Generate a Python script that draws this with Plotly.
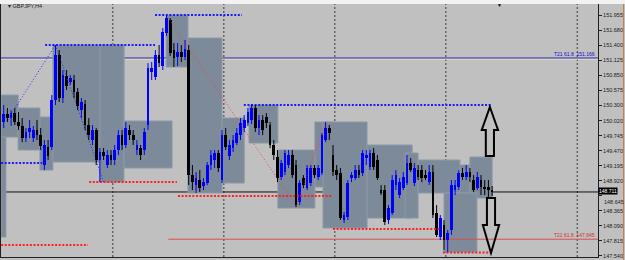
import plotly.graph_objects as go

# ---------------- data ----------------
candle_idx = list(range(133))
opens = [149.993,150.140,150.066,150.158,149.993,149.920,149.700,149.810,149.700,149.847,
         149.755,149.205,149.535,149.535,150.397,151.222,150.433,150.837,150.726,150.763,
         150.543,150.213,150.324,149.938,149.663,149.847,149.297,149.443,149.205,149.388,
         149.297,149.480,149.755,149.572,149.847,149.755,149.480,149.516,149.480,149.938,
         150.910,150.819,151.222,151.020,151.625,151.863,151.313,151.185,151.276,151.185,
         151.313,149.021,148.838,148.930,148.820,148.875,149.205,149.297,149.425,148.930,
         149.755,149.370,149.516,149.608,149.755,149.883,149.975,150.030,150.250,149.883,
         150.030,150.085,149.938,149.572,149.352,148.985,149.076,149.205,149.388,149.205,
         148.526,148.966,148.783,148.875,149.150,148.985,149.058,149.663,149.883,149.388,
         149.113,149.058,148.197,148.252,148.966,148.966,149.113,149.058,149.333,149.169,
         149.425,149.297,148.747,148.747,148.197,148.325,148.838,148.655,148.783,148.875,
         149.242,148.875,149.113,149.113,149.021,148.893,149.076,148.325,147.885,148.105,
         147.830,148.013,148.747,148.802,149.058,148.985,149.076,148.930,148.783,148.930,
         148.802,148.802,148.747]
highs = [150.305,150.250,150.213,150.250,150.176,150.066,149.883,150.030,149.920,150.030,
         149.883,149.663,149.663,150.488,151.405,151.313,150.947,150.947,150.855,150.855,
         150.616,150.433,150.397,150.066,149.938,149.883,149.516,149.516,149.480,149.480,
         149.572,149.847,149.847,149.993,149.938,149.847,149.663,149.572,149.883,151.075,
         151.093,151.313,151.405,151.716,151.955,151.900,151.442,151.442,151.405,151.497,
         151.405,149.205,149.076,149.113,148.966,149.260,149.480,149.480,149.480,149.847,
         149.883,149.663,149.755,149.883,150.066,150.121,150.250,150.324,150.305,150.121,
         150.121,150.158,149.993,149.663,149.480,149.297,149.480,149.480,149.480,149.297,
         148.930,149.021,149.205,149.205,149.205,149.205,149.792,149.993,149.938,149.572,
         149.205,149.150,148.343,148.930,149.076,149.205,149.205,149.480,149.480,149.480,
         149.516,149.388,148.838,148.838,148.471,149.021,149.113,148.966,149.076,149.388,
         149.333,149.242,149.205,149.205,149.113,149.205,149.205,148.471,148.288,148.197,
         148.013,148.930,148.930,149.113,149.150,149.205,149.150,149.021,149.076,149.021,
         148.930,148.930,148.820]
lows = [149.883,149.993,149.920,149.938,149.847,149.626,149.626,149.700,149.626,149.663,
        149.480,149.113,149.297,149.480,150.305,150.360,150.342,150.580,150.672,150.433,
        150.213,150.066,149.847,149.663,149.572,149.205,148.893,149.297,149.150,149.205,
        149.205,149.388,149.480,149.516,149.663,149.572,149.388,149.297,149.388,149.847,
        150.763,150.763,151.002,150.947,151.570,151.203,151.002,151.020,151.093,151.130,
        148.838,148.747,148.692,148.710,148.747,148.838,149.113,149.150,149.076,148.875,
        149.480,149.297,149.443,149.572,149.663,149.810,149.920,149.957,149.810,149.755,
        149.755,149.883,149.516,149.297,148.893,148.930,149.021,149.150,148.966,148.435,
        148.471,148.783,148.747,148.820,148.966,148.930,149.021,149.626,149.663,149.003,
        148.930,148.197,148.142,148.197,148.893,148.930,148.966,149.003,149.205,149.113,
        149.113,148.930,148.655,148.105,148.124,148.288,148.747,148.600,148.747,148.838,
        149.076,148.820,148.930,148.893,148.930,148.838,148.233,147.885,147.830,147.647,
        147.610,147.922,148.655,148.747,148.930,148.930,148.893,148.710,148.747,148.655,
        148.655,148.600,148.637]
closes = [150.140,150.066,150.158,149.993,149.920,149.700,149.810,149.883,149.847,149.755,
          149.553,149.572,149.370,150.397,151.222,150.433,150.855,150.653,150.800,150.543,
          150.287,150.360,149.938,149.755,149.847,149.297,149.443,149.370,149.388,149.297,
          149.480,149.755,149.572,149.883,149.755,149.663,149.572,149.388,149.810,150.983,
          150.983,151.222,151.075,151.643,151.900,151.258,151.166,151.276,151.185,151.332,
          149.021,148.893,148.966,148.783,148.893,149.205,149.388,149.425,149.150,149.755,
          149.535,149.572,149.663,149.792,149.975,150.030,150.176,150.250,149.883,150.030,
          149.847,149.975,149.572,149.388,148.966,149.242,149.425,149.388,149.021,148.471,
          148.875,148.838,149.150,149.150,149.021,149.150,149.755,149.883,149.792,149.076,
          149.021,148.233,148.288,148.875,149.021,149.113,149.021,149.425,149.388,149.425,
          149.169,148.966,148.692,148.160,148.416,148.930,149.021,148.893,148.985,149.242,
          149.113,149.150,148.985,148.966,148.966,149.076,148.288,147.922,148.233,147.830,
          147.958,148.838,148.838,149.058,148.985,149.076,148.985,148.747,148.985,148.802,
          148.783,148.747,148.711]

# shaded zones (start index, end index, top price, bottom price)
zone_start = [-0.7, -0.7, 3.9, 9.8, 13.3, 26.0, 32.5, 43.9, 49.8, 59.0, 66.3, 74.1,
              84.1, 86.3, 98.2, 108.5, 112.0, 123.3, 126.0, 119.0]
zone_end = [3.9, 0.6, 9.8, 13.3, 32.5, 32.5, 45.5, 49.8, 59.0, 65.0, 74.1, 84.1,
            89.0, 98.2, 110.4, 112.0, 123.3, 126.0, 132.0, 127.9]
zone_top = [150.488, 149.718, 150.250, 150.085, 151.405, 151.405, 150.012, 151.955,
            151.533, 150.066, 150.305, 149.480, 149.993, 149.993, 149.572, 149.425,
            149.297, 149.205, 149.352, 148.692]
zone_bottom = [149.718, 147.885, 149.480, 149.113, 149.260, 148.893, 149.150, 151.002,
               148.692, 148.875, 149.608, 148.416, 148.802, 148.050, 148.233, 148.233,
               148.692, 148.692, 148.600, 147.610]

# dotted high levels (blue) and low levels (red)
high_lvl_start = [11.2, 40.9, 64.9, -0.7]
high_lvl_end = [40.9, 64.4, 132.0, 10.4]
high_lvl_price = [151.405, 151.955, 150.305, 149.242]
low_lvl_start = [23.1, 47.1, 89.0, 118.7, -0.7]
low_lvl_end = [46.8, 88.7, 117.9, 132.0, 22.8]
low_lvl_price = [148.893, 148.637, 148.032, 147.600, 147.738]

# thin swing lines
blue_swing_x = [[1, 14], [14, 27]]
blue_swing_y = [[150.030, 151.405], [151.405, 148.893]]
red_swing_x = [[44, 79], [79, 87]]
red_swing_y = [[151.955, 148.450], [148.435, 149.993]]

week_separators = [29.5, 59.5, 89.5, 119.5, 155.0]

tick_prices = [151.955, 151.680, 151.400, 151.125, 150.850, 150.575, 150.300, 150.020,
               149.745, 149.470, 149.195, 148.920, 148.645, 148.365, 148.090, 147.815, 147.540]
tick_labels = ["151.955", "151.680", "151.400", "151.125", "150.850", "150.575", "150.300",
               "150.020", "149.745", "149.470", "149.195", "148.920", "148.645", "148.365",
               "148.090", "147.815", "147.540"]
hidden_tick = "148.645"   # partly under the bid label, drawn nudged below it

fib_upper = 151.166
fib_lower = 147.845
bid_price = 148.711
fib_upper_label = "T21 61.8  151.166"
fib_lower_label = "T21 61.8  147.845"
symbol_label = "GBPJPY,H4"

# arrows: (x center, tip price, head-base price, tail price)
up_arrow = (131.4, 150.268, 149.847, 149.370)
down_arrow = (131.7, 147.592, 148.105, 148.600)

# ---------------- figure ----------------
BG = "#c0c0c0"
ZONE = "#7d8a99"
TICKFONT = dict(size=5.5, color="#202020", family="Liberation Sans")
fig = go.Figure()

shapes = []
for x0, x1, t, b in zip(zone_start, zone_end, zone_top, zone_bottom):
    shapes.append(dict(type="rect", xref="x", yref="y", x0=x0, x1=x1, y0=b, y1=t,
                       fillcolor=ZONE, line=dict(color="#8d99a6", width=1), layer="below"))
for s in week_separators:
    shapes.append(dict(type="line", xref="x", yref="paper", x0=s, x1=s, y0=0, y1=1,
                       line=dict(color="#3a3a3a", width=1, dash="2px,2px"), layer="below"))
shapes.append(dict(type="line", xref="paper", yref="y", x0=0, x1=1, y0=fib_upper, y1=fib_upper,
                   line=dict(color="#1010d0", width=1), layer="below"))
shapes.append(dict(type="line", xref="paper", yref="y", x0=0, x1=1, y0=fib_upper - 0.022,
                   y1=fib_upper - 0.022, line=dict(color="#e6e0b0", width=1), layer="below"))
shapes.append(dict(type="line", xref="x", yref="y", x0=44.5, x1=160.62, y0=fib_lower, y1=fib_lower,
                   line=dict(color="#d85050", width=1), layer="below"))
shapes.append(dict(type="line", xref="paper", yref="y", x0=0, x1=1, y0=bid_price, y1=bid_price,
                   line=dict(color="#101010", width=1), layer="below"))


def arrow_path(cx, tip, base, tail, head_half=2.2, shaft_half=1.1):
    return (f"M {cx} {tip} L {cx + head_half} {base} L {cx + shaft_half} {base} "
            f"L {cx + shaft_half} {tail} L {cx - shaft_half} {tail} L {cx - shaft_half} {base} "
            f"L {cx - head_half} {base} Z")


for a in (up_arrow, down_arrow):
    shapes.append(dict(type="path", xref="x", yref="y", path=arrow_path(*a),
                       fillcolor="rgba(0,0,0,0)", line=dict(color="#000000", width=2),
                       layer="above"))

# top light strip & right edge line
shapes.append(dict(type="rect", xref="paper", yref="paper", x0=-0.01, x1=1.06, y0=1.0,
                   y1=1.02, fillcolor="#f2f2f2", line=dict(width=0), layer="above"))
shapes.append(dict(type="line", xref="paper", yref="paper", x0=1.0428, x1=1.0428, y0=-0.02,
                   y1=1.0, line=dict(color="#c08040", width=1), layer="above"))

# level lines
for x0, x1, p in zip(high_lvl_start, high_lvl_end, high_lvl_price):
    fig.add_trace(go.Scatter(x=[x0, x1], y=[p, p], mode="lines", hoverinfo="skip",
                             line=dict(color="#1a1aff", width=2, dash="2px,1.6px"),
                             showlegend=False))
for x0, x1, p in zip(low_lvl_start, low_lvl_end, low_lvl_price):
    fig.add_trace(go.Scatter(x=[x0, x1], y=[p, p], mode="lines", hoverinfo="skip",
                             line=dict(color="#ff2020", width=2, dash="2px,1.6px"),
                             showlegend=False))
for xs, ys in zip(blue_swing_x, blue_swing_y):
    fig.add_trace(go.Scatter(x=xs, y=ys, mode="lines", hoverinfo="skip",
                             line=dict(color="#2a2aff", width=1, dash="1px,2px"),
                             showlegend=False))
for xs, ys in zip(red_swing_x, red_swing_y):
    fig.add_trace(go.Scatter(x=xs, y=ys, mode="lines", hoverinfo="skip",
                             line=dict(color="#ff4040", width=1, dash="1px,2px"),
                             showlegend=False))

# candles: wicks + bodies
for bull, col in ((True, "#0000ff"), (False, "#000000")):
    wx, wy, bx, bbase, bh = [], [], [], [], []
    for i, o, h, l, c in zip(candle_idx, opens, highs, lows, closes):
        if (c >= o) != bull:
            continue
        wx += [i, i, None]
        wy += [l, h, None]
        bx.append(i)
        bbase.append(min(o, c))
        bh.append(max(abs(c - o), 0.01))
    fig.add_trace(go.Scatter(x=wx, y=wy, mode="lines", line=dict(color=col, width=1),
                             hoverinfo="skip", showlegend=False))
    fig.add_trace(go.Bar(x=bx, y=bh, base=bbase, width=0.72,
                         marker=dict(color=col, line=dict(width=0)),
                         showlegend=False, hoverinfo="skip"))

shown_ticktext = ["" if t == hidden_tick else t for t in tick_labels]
hidden_price = tick_prices[tick_labels.index(hidden_tick)]

annotations = [
    dict(xref="paper", yref="paper", x=0.008, y=0.993, text="▾ " + symbol_label, showarrow=False,
         xanchor="left", yanchor="middle", font=dict(size=5.5, color="#202020", family="Liberation Sans")),
    dict(xref="paper", yref="y", x=0.998, y=fib_upper, text=fib_upper_label, showarrow=False,
         xanchor="right", yanchor="bottom", yshift=-1,
         font=dict(size=5, color="#1010d0", family="Liberation Sans")),
    dict(xref="paper", yref="y", x=0.998, y=fib_lower, text=fib_lower_label, showarrow=False,
         xanchor="right", yanchor="bottom", yshift=-1,
         font=dict(size=5, color="#d83030", family="Liberation Sans")),
    dict(xref="paper", yref="y", x=1.0, y=hidden_price, text=hidden_tick, showarrow=False,
         xanchor="left", yanchor="top", xshift=4, yshift=-1, font=TICKFONT),
    dict(xref="paper", yref="y", x=1.0, y=bid_price, text=f"{bid_price:.3f}", showarrow=False,
         xanchor="left", yanchor="middle", bgcolor="#000000", borderpad=0, yshift=1,
         font=dict(size=5, color="#ffffff", family="Liberation Sans")),
    dict(xref="x", yref="paper", x=133.9, y=0.998, text="▼", showarrow=False,
         xanchor="center", yanchor="middle", font=dict(size=5, color="#000000")),
]

fig.update_layout(
    width=625, height=260,
    margin=dict(l=1, r=27, t=4, b=3),
    paper_bgcolor=BG, plot_bgcolor=BG,
    barmode="overlay", bargap=0,
    shapes=shapes, annotations=annotations,
    xaxis=dict(range=[-0.73, 160.62], showgrid=False, zeroline=False, showticklabels=False,
               showline=True, linecolor="#202020", linewidth=1, mirror=True, ticks=""),
    yaxis=dict(range=[147.519, 152.157], side="right", showgrid=False, zeroline=False,
               tickvals=tick_prices, ticktext=shown_ticktext, ticks="outside", ticklen=3,
               tickcolor="#202020", showline=True, linecolor="#202020", linewidth=1, mirror=True,
               tickfont=TICKFONT),
    font=dict(family="Liberation Sans"),
)

fig.write_html("out.html")
